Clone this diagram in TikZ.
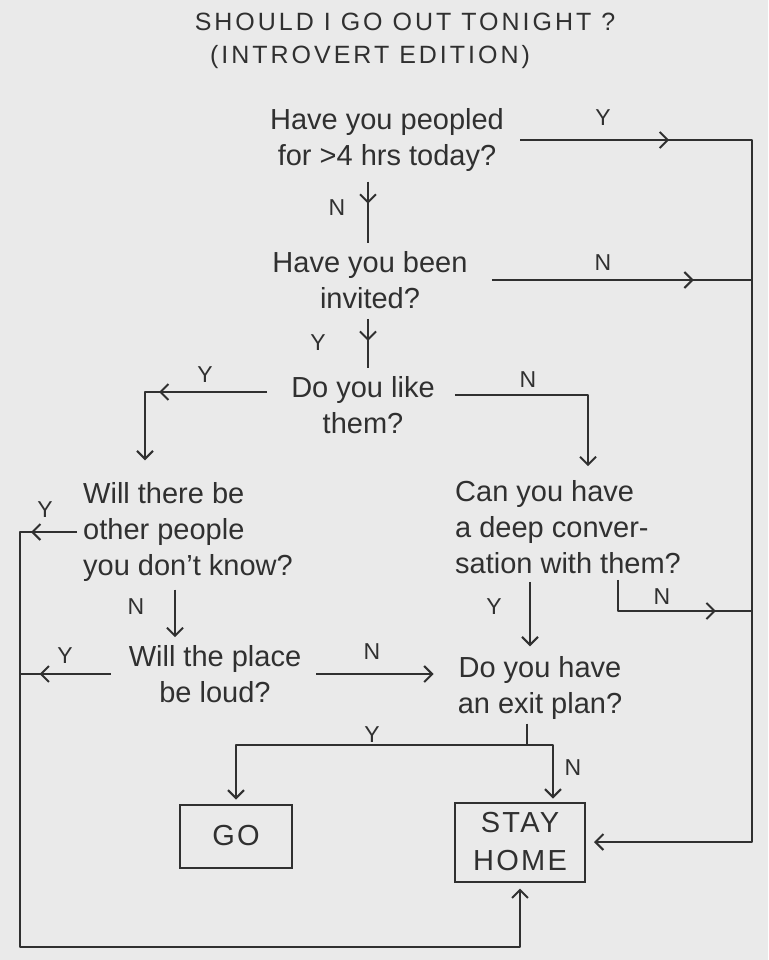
\documentclass[tikz,border=0pt]{standalone}
\usepackage{fontspec}
\setmainfont{Liberation Sans}
\usetikzlibrary{arrows.meta,decorations.markings}
\definecolor{ink}{HTML}{303030}
\definecolor{paper}{HTML}{EAEAEA}
\begin{document}
\begin{tikzpicture}[x=1pt,y=-1pt,
  >={Straight Barb[length=8pt,width=16pt]},
  ln/.style={draw=ink,line width=2pt,line join=round},
  midarr/.style={postaction={decorate},decoration={markings,mark=at position #1 with {\arrow{>}}}},
  q/.style={font=\fontsize{29}{36}\selectfont,text=ink,inner sep=0pt,align=center},
  lbl/.style={font=\fontsize{23}{24}\selectfont,text=ink,inner sep=0pt},
  title/.style={font=\fontsize{25}{28}\selectfont\addfontfeatures{LetterSpace=12},text=ink,inner sep=0pt},
  endbox/.style={draw=ink,line width=2pt,font=\fontsize{29}{38}\selectfont\addfontfeatures{LetterSpace=8},text=ink,align=center,inner sep=0pt}
]
\fill[paper] (0,0) rectangle (768,960);
\useasboundingbox (0,0) rectangle (768,960);

% title
\node[title] (t1) at (405,22) {SHOULD I GO OUT TONIGHT ?};
\node[title] (t2) at (370,57) {(INTROVERT EDITION)};

% questions
\node[q] (q1) at (387,140) {Have you peopled\\for >4 hrs today?};
\node[q] (q2) at (370,280) {Have you been\\invited?};
\node[q] (q3) at (363,405) {Do you like\\them?};
\node[q,align=left,anchor=west] (q4) at (83,532) {Will there be\\other people\\you don't know?};
\node[q] (q5) at (215,674) {Will the place\\be loud?};
\node[q,align=left,anchor=west] (q6) at (455,527) {Can you have\\a deep conver-\\sation with them?};
\node[q] (q7) at (540,688) {Do you have\\an exit plan?};
\node[endbox,minimum width=112pt,minimum height=63pt] (go) at (236,836) {GO};
\node[endbox,minimum width=130pt,minimum height=79pt] (sh) at (520,842) {STAY\\HOME};

% helper coordinates
\coordinate (rt) at (752,0);
\coordinate (lb) at (20,947);
\coordinate (v1) at (368,0);
\coordinate (c3l) at (145,392);
\coordinate (c3r) at (588,395);
\coordinate (v4) at (175,0);
\coordinate (v6) at (530,0);
\coordinate (n6) at (618,611);
\coordinate (j7) at (527,745);
\coordinate (n7) at (553,0);

% Q1 -> STAY HOME (Y)
\draw[ln,->,shorten <=16pt,shorten >=8pt,midarr=165pt] (q1.east) -- (q1.east -| rt) |- (sh.east);
\node[lbl] (l1) at (603,118) {Y};
% Q1 -> Q2 (N)
\draw[ln,shorten <=10pt,shorten >=8pt,midarr=32pt] (q1.south -| v1) -- (q2.north -| v1);
\node[lbl] (l2) at (337,208) {N};
% Q2 -> right (N)
\draw[ln,shorten <=24pt,midarr=226pt] (q2.east) -- (q2.east -| rt);
\node[lbl] (l3) at (603,263) {N};
% Q2 -> Q3 (Y)
\draw[ln,shorten <=10pt,shorten >=8pt,midarr=32pt] (q2.south -| v1) -- (q3.north -| v1);
\node[lbl] (l4) at (318,343) {Y};
% Q3 -> Q4 (Y)
\draw[ln,->,shorten <=24pt,shorten >=22pt,midarr=132pt] (q3.west |- c3l) -- (c3l) -- (q4.north -| c3l);
\node[lbl] (l5) at (205,375) {Y};
% Q3 -> Q6 (N)
\draw[ln,->,shorten <=20pt,shorten >=14pt] (q3.east |- c3r) -- (c3r) -- (q6.north -| c3r);
\node[lbl] (l6) at (528,380) {N};
% Q4 -> STAY HOME (Y)
\draw[ln,->,shorten <=6pt,shorten >=6pt,midarr=52pt] (q4.west) -- (q4.west -| lb) -- (lb) -| (sh.south);
\node[lbl] (l7) at (45,510) {Y};
% Q4 -> Q5 (N)
\draw[ln,->,shorten <=8pt,shorten >=8pt] (q4.south -| v4) -- (q5.north -| v4);
\node[lbl] (l8) at (136,607) {N};
% Q5 -> left (Y)
\draw[ln,shorten <=18pt,midarr=89pt] (q5.west) -- (q5.west -| lb);
\node[lbl] (l9) at (65,656) {Y};
% Q5 -> Q7 (N)
\draw[ln,->,shorten <=15pt,shorten >=24pt] (q5.east) -- (q5.east -| q7.west);
\node[lbl] (l10) at (372,652) {N};
% Q6 -> Q7 (Y)
\draw[ln,->,shorten <=8pt,shorten >=10pt] (q6.south -| v6) -- (q7.north -| v6);
\node[lbl] (l11) at (494,607) {Y};
% Q6 -> right (N)
\draw[ln,shorten <=6pt,midarr=135pt] (q6.south -| n6) -- (n6) -- (n6 -| rt);
\node[lbl] (l12) at (662,597) {N};
% Q7 -> GO / STAY HOME
\draw[ln,shorten <=4pt] (q7.south -| j7) -- (j7);
\draw[ln,->,shorten >=4pt] (j7) -| (go.north);
\draw[ln,->,shorten >=3pt] (j7) -- (j7 -| n7) -- (sh.north -| n7);
\node[lbl] (l13) at (372,735) {Y};
\node[lbl] (l14) at (573,768) {N};
\end{tikzpicture}
\end{document}
